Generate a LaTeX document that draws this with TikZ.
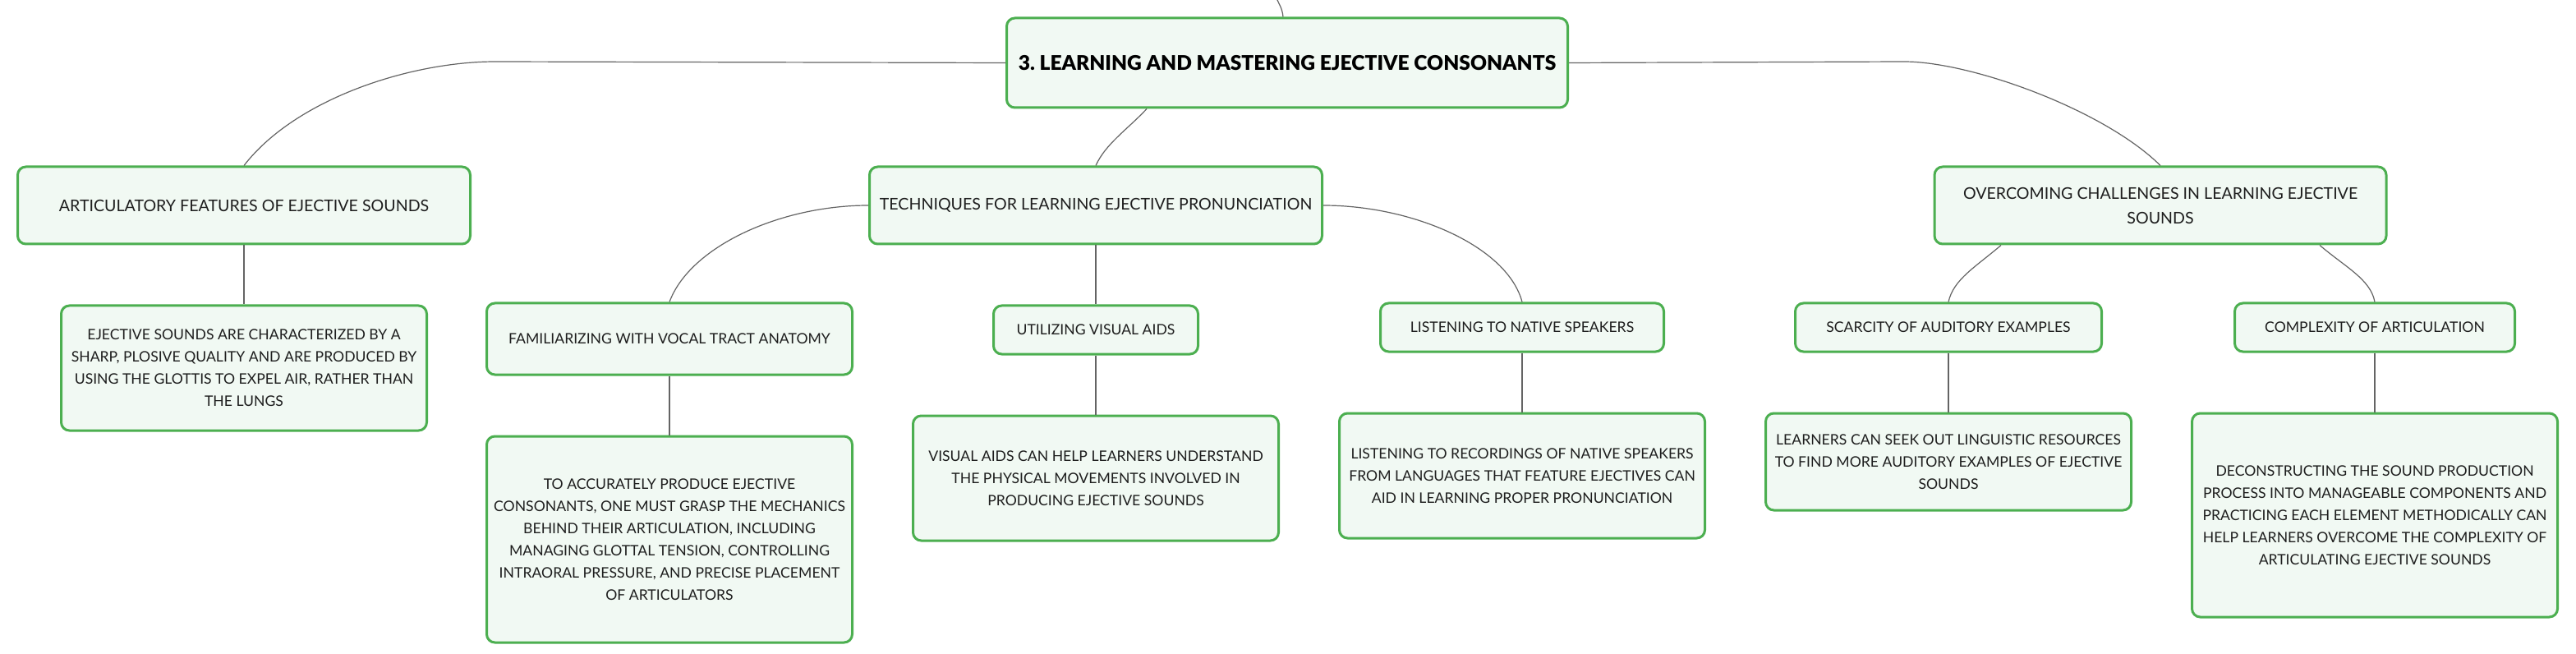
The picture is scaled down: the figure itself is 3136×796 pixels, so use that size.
\documentclass[tikz,border=0pt]{standalone}
\usepackage{fontspec}
\setmainfont{Lato}
\newfontfamily\titlefont{Lato Black}
\usetikzlibrary{shapes,positioning}
\definecolor{boxgreen}{RGB}{76,175,80}
\definecolor{boxfill}{RGB}{241,249,243}
\definecolor{linkgray}{RGB}{100,100,100}
\definecolor{textdark}{RGB}{30,30,30}
\frenchspacing

\begin{document}
\begin{tikzpicture}[x=0.5pt, y=-0.5pt, node distance=36pt]
        \tikzstyle{topic}=[draw=boxgreen, fill=boxfill, line width=1.5pt, rounded corners=5pt, align=center, inner sep=0pt, anchor=north, text=textdark, font=\fontsize{9.8}{13.5}\selectfont]
        \tikzstyle{subtopic}=[topic, font=\fontsize{8.8}{13.5}\selectfont]
        \tikzstyle{detail}=[subtopic, minimum width=222.5pt]
        \tikzstyle{link}=[draw=linkgray, line width=0.6pt]
        \path[use as bounding box, fill=white] (0,0) rectangle (3136,796);

        \node[topic, minimum width=341.5pt, minimum height=54.5pt, text=black, font=\fontsize{12.3}{15}\titlefont] (root) at (1567,20.5) {3. LEARNING AND MASTERING EJECTIVE CONSONANTS};
        \coordinate (up) at (1555,0);

        \node[topic, minimum width=275.5pt, minimum height=47pt] (art)  at (297,201.5)  {ARTICULATORY FEATURES OF EJECTIVE SOUNDS};
        \node[topic, minimum width=275.5pt, minimum height=47pt] (tech) at (1334,201.5) {TECHNIQUES FOR LEARNING EJECTIVE PRONUNCIATION};
        \node[topic, minimum width=275pt, minimum height=47pt] (over) at (2630,201.5) {OVERCOMING CHALLENGES IN LEARNING EJECTIVE\\[1.5pt]SOUNDS};

        \node[subtopic, minimum width=222.5pt, minimum height=43.5pt] (famil)  at (815,367.5)  {FAMILIARIZING WITH VOCAL TRACT ANATOMY};
        \node[subtopic, minimum width=124.5pt, minimum height=29.5pt] (util)   [below=of tech] {UTILIZING VISUAL AIDS};
        \node[subtopic, minimum width=172.5pt, minimum height=29.5pt] (listen) at (1853,367.5) {LISTENING TO NATIVE SPEAKERS};
        \node[subtopic, minimum width=186.5pt, minimum height=29.5pt] (scarc)  at (2372,367.5) {SCARCITY OF AUDITORY EXAMPLES};
        \node[subtopic, minimum width=170.5pt, minimum height=29.5pt] (compl)  at (2891,367.5) {COMPLEXITY OF ARTICULATION};

        \node[detail, minimum height=76pt] (ejdesc) [below=of art] {EJECTIVE SOUNDS ARE CHARACTERIZED BY A\\SHARP, PLOSIVE QUALITY AND ARE PRODUCED BY\\USING THE GLOTTIS TO EXPEL AIR, RATHER THAN\\THE LUNGS};
        \node[detail, minimum height=125.5pt] (accdesc) [below=of famil] {TO ACCURATELY PRODUCE EJECTIVE\\CONSONANTS, ONE MUST GRASP THE MECHANICS\\BEHIND THEIR ARTICULATION, INCLUDING\\MANAGING GLOTTAL TENSION, CONTROLLING\\INTRAORAL PRESSURE, AND PRECISE PLACEMENT\\OF ARTICULATORS};
        \node[detail, minimum height=76pt] (visdesc) [below=of util] {VISUAL AIDS CAN HELP LEARNERS UNDERSTAND\\THE PHYSICAL MOVEMENTS INVOLVED IN\\PRODUCING EJECTIVE SOUNDS};
        \node[detail, minimum height=76pt] (lisdesc) [below=of listen] {LISTENING TO RECORDINGS OF NATIVE SPEAKERS\\FROM LANGUAGES THAT FEATURE EJECTIVES CAN\\AID IN LEARNING PROPER PRONUNCIATION};
        \node[detail, minimum height=59pt] (learndesc) [below=of scarc] {LEARNERS CAN SEEK OUT LINGUISTIC RESOURCES\\TO FIND MORE AUDITORY EXAMPLES OF EJECTIVE\\SOUNDS};
        \node[detail, minimum height=124pt] (decdesc) [below=of compl] {DECONSTRUCTING THE SOUND PRODUCTION\\PROCESS INTO MANAGEABLE COMPONENTS AND\\PRACTICING EACH ELEMENT METHODICALLY CAN\\HELP LEARNERS OVERCOME THE COMPLEXITY OF\\ARTICULATING EJECTIVE SOUNDS};

        \draw[link] ([xshift=-2.5pt]root.north) .. controls (1561,10) and (1557,5) .. (up);
        \draw[link] (root.west) -- (603,75) .. controls (500,75) and (360,120) .. (art.north);
        \draw[link] (root.east) -- (2318,75) .. controls (2400,75) and (2562,134) .. (over.north);
        \draw[link] ([xshift=-85.5pt]root.south) .. controls (1372,158) and (1346,175) .. (tech.north);
        \draw[link] (tech.west) .. controls (950,250) and (840,300) .. (famil.north);
        \draw[link] (tech.south) -- (util.north);
        \draw[link] (tech.east) .. controls (1720,250) and (1835,300) .. (listen.north);
        \draw[link] ([xshift=-97pt]over.south) .. controls (2405,325) and (2378,340) .. (scarc.north);
        \draw[link] ([xshift=97pt]over.south) .. controls (2855,325) and (2886,340) .. (compl.north);
        \draw[link] (art.south) -- (ejdesc.north);
        \draw[link] (famil.south) -- (accdesc.north);
        \draw[link] (util.south) -- (visdesc.north);
        \draw[link] (listen.south) -- (lisdesc.north);
        \draw[link] (scarc.south) -- (learndesc.north);
        \draw[link] (compl.south) -- (decdesc.north);
    \end{tikzpicture}
\end{document}
